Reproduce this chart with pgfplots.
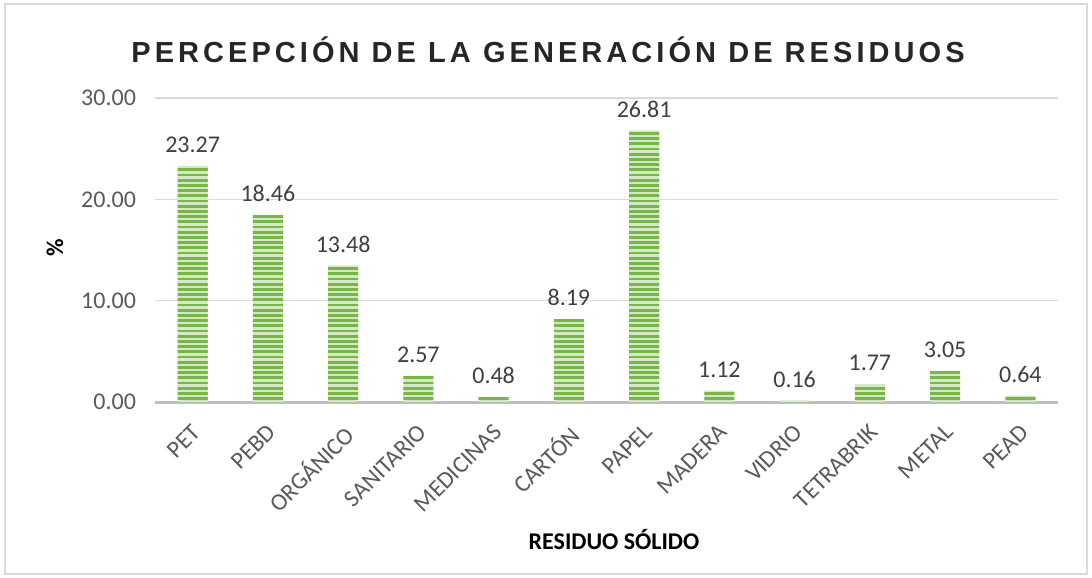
\documentclass[border=0pt]{standalone}
\usepackage{pgfplots}
\pgfplotsset{compat=1.18}
\usepackage{fontspec}
\setmainfont{Carlito}
\newfontfamily\titlefont[LetterSpace=14]{Liberation Sans}
\usetikzlibrary{patterns}
\definecolor{gridc}{HTML}{D9D9D9}
\definecolor{axc}{HTML}{BFBFBF}
\definecolor{txt}{HTML}{595959}
\definecolor{lbl}{HTML}{404040}
\definecolor{barlight}{HTML}{D5E8C5}
\definecolor{bardark}{HTML}{78B64A}
\pgfdeclarepatternformonly{thickh}{\pgfpoint{-1pt}{-1pt}}{\pgfpoint{3pt}{3pt}}{\pgfpoint{2.6pt}{2.6pt}}{%
  \pgfsetlinewidth{1.4pt}
  \pgfpathmoveto{\pgfpoint{-0.5pt}{1.3pt}}
  \pgfpathlineto{\pgfpoint{3.1pt}{1.3pt}}
  \pgfusepath{stroke}}
\begin{document}
\begin{tikzpicture}
\useasboundingbox (-77.5pt,-88pt) rectangle (468.5pt,201pt);
\draw[gridc, line width=0.8pt] (-75pt,-86pt) rectangle (466pt,199pt);
\begin{axis}[
  at={(0,0)}, anchor=south west,
  scale only axis, width=451.5pt, height=152pt,
  xmin=-0.5, xmax=11.5, ymin=0, ymax=30,
  axis x line*=bottom, axis y line*=left,
  y axis line style={draw=none},
  ytick={0,10,20,30},
  yticklabels={0.00,10.00,20.00,30.00},
  ymajorgrids, grid style={gridc, line width=0.6pt},
  xtick=data,
  xticklabels={PET,PEBD,ORGÁNICO,SANITARIO,MEDICINAS,CARTÓN,PAPEL,MADERA,VIDRIO,TETRABRIK,METAL,PEAD},
  x axis line style={axc, line width=1.5pt},
  major tick length=0pt,
  tick label style={font=\fontsize{12}{14}\selectfont, text=txt},
  xticklabel style={rotate=45, anchor=north east, xshift=-4.4pt, yshift=-3.3pt},
  yticklabel style={xshift=-6pt},
  clip=false,
  nodes near coords,
  point meta=explicit symbolic,
  nodes near coords style={font=\fontsize{12}{14}\selectfont, text=lbl, yshift=3pt},
]
\addplot[ybar, bar width=15pt, draw=none, fill=barlight,
  postaction={pattern=thickh, pattern color=bardark}]
  table[meta=l] {
x y l
0 23.27 23.27
1 18.46 18.46
2 13.48 13.48
3 2.57 2.57
4 0.48 0.48
5 8.19 8.19
6 26.81 26.81
7 1.12 1.12
8 0.16 0.16
9 1.77 1.77
10 3.05 3.05
11 0.64 0.64
};
\end{axis}
\node[font=\titlefont\bfseries\fontsize{14.5}{16}\selectfont, text=black!85] at (196.5pt,176pt) {PERCEPCIÓN DE LA GENERACIÓN DE RESIDUOS};
\node[rotate=90, font=\bfseries\fontsize{12}{14}\selectfont] at (-50pt,77pt) {\%};
\node[font=\bfseries\fontsize{12}{14}\selectfont] at (229.5pt,-69pt) {RESIDUO SÓLIDO};
\end{tikzpicture}
\end{document}
